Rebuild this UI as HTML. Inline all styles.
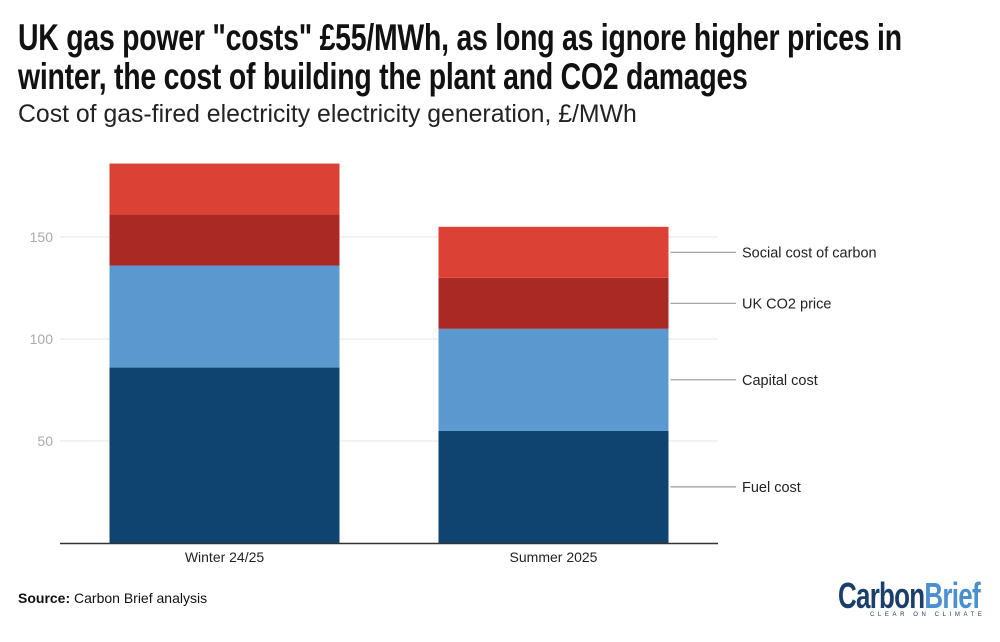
<!DOCTYPE html>
<html><head><meta charset="utf-8"><style>
body{margin:0;width:1000px;height:642px;background:#fff;overflow:hidden;font-family:"Liberation Sans",sans-serif;}
#title{position:absolute;left:18px;top:18px;font-weight:bold;font-size:37px;line-height:39px;color:#111;white-space:nowrap;transform:scaleX(0.768);transform-origin:0 0;letter-spacing:-0.3px;}
#sub{position:absolute;left:18px;top:101px;font-size:24.8px;color:#222;}
#src{position:absolute;left:18px;top:590px;font-size:14px;color:#111;}
#logo{position:absolute;left:838px;top:575px;font-weight:bold;font-size:36px;letter-spacing:-1px;white-space:nowrap;transform:scaleX(0.72);transform-origin:0 0;}
#tag{position:absolute;left:870px;top:612px;font-size:6px;letter-spacing:3.6px;color:#1d3b63;white-space:nowrap;}
</style></head><body>
<div id="title">UK gas power "costs" £55/MWh, as long as ignore higher prices in<br>winter, the cost of building the plant and CO2 damages</div>
<div id="sub">Cost of gas-fired electricity electricity generation, £/MWh</div>
<svg id="chart" width="1000" height="642" style="position:absolute;left:0;top:0"></svg>
<div id="src"><b>Source:</b> Carbon Brief analysis</div>
<div id="logo"><span style="color:#1b3f6b">Carbon</span><span style="color:#4a90cf">Brief</span></div>
<div id="tag">CLEAR ON CLIMATE</div>
<script>
const categories=["Winter 24/25","Summer 2025"];
const seriesNames=["Fuel cost","Capital cost","UK CO2 price","Social cost of carbon"];
const fuel=[86,55];
const capital=[50,50];
const co2=[25,25];
const social=[25,25];
const yTicks=[50,100,150];
const colors=["#0f4470","#5b98d0","#ab2924","#dc4136"];
const svg=document.getElementById('chart');
const NS='http://www.w3.org/2000/svg';
const x0=60,x1=718,base=543,pxPer=2.04,barW=230;
const y=v=>base-v*pxPer;
const xc=i=>x0+(x1-x0)/categories.length*(i+0.5);
function mk(t,a){const e=document.createElementNS(NS,t);for(const k in a)e.setAttribute(k,a[k]);svg.appendChild(e);return e;}
yTicks.forEach(t=>{
 const g=mk('line',{x1:x0,x2:x1,y1:y(t),y2:y(t),stroke:'#e6e6e6','stroke-width':1});
 
 
 const l=mk('text',{x:53,y:y(t)+5,'text-anchor':'end','font-size':14,fill:'#aaa','font-family':'Liberation Sans'});
 l.textContent=t;
 
 
});
const series=[fuel,capital,co2,social];
categories.forEach((c,i)=>{
 let cum=0;
 series.forEach((s,j)=>{
  const r=mk('rect',{x:xc(i)-barW/2,y:y(cum+s[i]),width:barW,height:s[i]*pxPer,fill:colors[j]});
  
  
  cum+=s[i];
 });
 const t=mk('text',{x:xc(i),y:562,'text-anchor':'middle','font-size':14,fill:'#222','font-family':'Liberation Sans'});
 t.textContent=c;
 
 
});
const ax=mk('line',{x1:x0,x2:x1,y1:base+0.5,y2:base+0.5,stroke:'#333','stroke-width':1.5});


const last=categories.length-1;let cum=0;
series.forEach((s,j)=>{
 const mid=y(cum+s[last]/2);cum+=s[last];
 const xe=xc(last)+barW/2;
 const ln=mk('line',{x1:xe+2,x2:736,y1:mid,y2:mid,stroke:'#999','stroke-width':1.2});
 
 
 const t=mk('text',{x:742,y:mid+5,'font-size':14.5,fill:'#222','font-family':'Liberation Sans'});
 t.textContent=seriesNames[j];
 
 
});
</script>
</body></html>
